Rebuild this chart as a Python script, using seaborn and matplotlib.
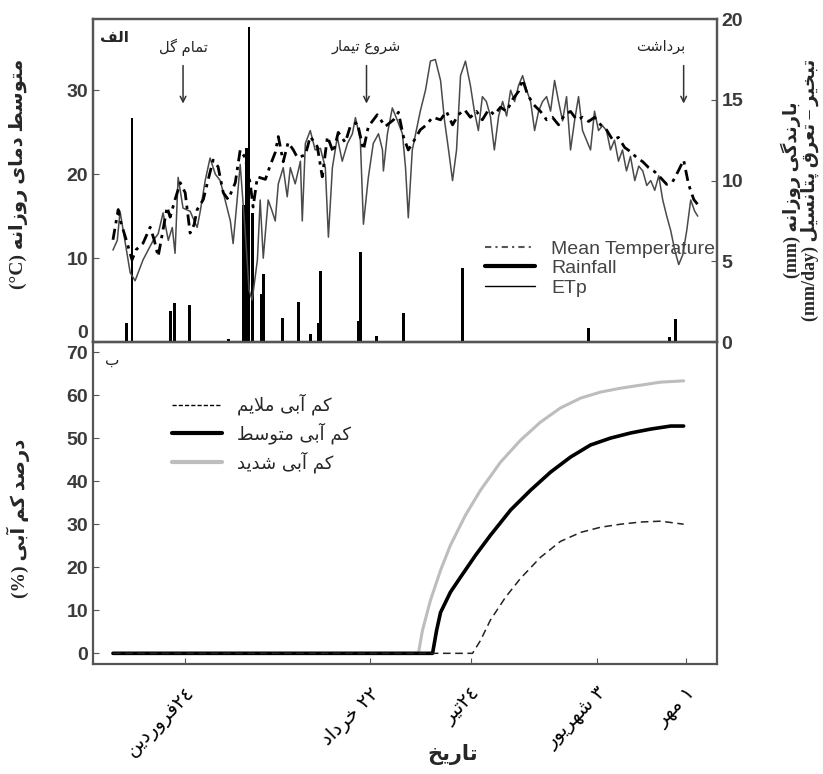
import numpy as np
import matplotlib
matplotlib.use("Agg")
import matplotlib.pyplot as plt
from matplotlib.lines import Line2D
import seaborn as sns

# ---- data (day of the Persian year, 1 = 1 Farvardin) ----
temp_day = [0.5, 2.2, 2.8, 4.8, 6.7, 8.0, 10.3, 12.6, 13.9, 15.2, 16.8, 18.1, 19.1, 20.7,
            22.4, 24.0, 25.6, 26.9, 27.9, 29.9, 31.5, 33.1, 34.7, 36.4, 38.0, 40.3, 41.9,
            43.5, 45.2, 46.1, 47.5, 50.1, 51.7, 53.3, 54.3, 55.9, 57.5, 59.2, 60.5, 63.1,
            64.7, 67.0, 68.6, 70.3, 72.2, 73.8, 76.1, 77.7, 80.0, 82.0, 83.6, 86.5, 89.1,
            91.8, 93.4, 95.0, 96.6, 98.6, 100.5, 102.5, 104.5, 107.1, 109.0, 111.0, 112.9,
            114.9, 116.8, 118.8, 120.7, 122.7, 124.6, 126.6, 128.6, 130.5, 132.5, 133.8,
            135.4, 137.4, 139.6, 141.6, 143.5, 145.5, 147.5, 149.4, 151.4, 153.3, 155.3,
            157.2, 159.2, 161.1, 163.1, 165.0, 167.0, 168.9, 170.9, 172.9, 174.8, 176.8,
            178.7, 180.7, 182.6, 184.6, 186.2, 187.8, 189.5, 190.8]
temp_val = [12.2, 15.8, 14.6, 12.2, 9.8, 11.0, 11.8, 13.7, 12.2, 10.2, 13.4, 16.1, 14.9, 17.0,
            19.0, 17.8, 13.0, 14.0, 15.8, 17.0, 19.4, 21.7, 20.9, 17.8, 17.0, 19.0, 22.9,
            22.0, 18.8, 16.1, 19.7, 19.4, 21.1, 22.6, 24.5, 21.5, 23.8, 22.9, 22.0, 22.3,
            24.5, 23.3, 19.7, 24.5, 22.6, 25.0, 23.8, 25.7, 26.2, 22.9, 25.7, 27.1, 25.7,
            26.5, 27.4, 24.5, 22.9, 24.1, 25.3, 25.9, 26.8, 26.5, 27.5, 25.9, 27.1,
            27.7, 26.8, 27.5, 26.5, 27.7, 27.1, 28.0, 27.5, 28.9, 29.9, 31.3,
            29.5, 28.3, 27.5, 26.5, 26.8, 25.9, 27.1, 27.5, 26.5, 26.8, 26.3,
            26.8, 25.9, 25.3, 24.1, 24.4, 23.2, 22.7, 22.0, 21.5, 20.8, 20.3,
            19.6, 18.8, 19.1, 20.5, 21.7, 18.8, 17.0, 16.4]

etp_day = [0.5, 1.9, 2.8, 4.1, 6.1, 7.7, 10.3, 13.6, 15.2, 16.8, 18.5, 19.8, 20.7, 21.7,
           23.3, 25.6, 27.9, 28.9, 30.5, 32.1, 33.8, 35.4, 37.0, 38.7, 39.6, 40.9, 41.9,
           43.5, 44.8, 45.8, 47.5, 48.4, 49.4, 51.0, 52.3, 53.3, 54.3, 55.9, 57.2, 58.2,
           59.8, 61.5, 62.1, 63.1, 64.7, 66.3, 68.0, 69.6, 70.6, 71.9, 73.5, 75.1, 76.8,
           78.4, 79.4, 81.0, 82.0, 83.6, 85.2, 86.9, 88.2, 88.5, 89.8, 91.4, 93.1, 94.7,
           95.7, 96.6, 97.9, 99.2, 100.5, 102.2, 103.8, 105.4, 107.1, 108.4, 109.7, 111.0,
           112.3, 113.6, 115.2, 116.8, 118.1, 119.4, 120.7, 122.0, 123.3, 124.6, 126.0,
           127.3, 128.6, 129.9, 131.2, 132.5, 133.8, 135.1, 136.4, 137.7, 139.0, 140.3,
           141.6, 142.9, 144.2, 145.5, 146.8, 148.1, 149.4, 150.7, 152.0, 153.3, 154.6,
           155.9, 157.2, 158.5, 159.8, 161.1, 162.4, 163.7, 165.0, 166.3, 167.6, 168.9,
           170.3, 171.6, 172.9, 174.2, 175.5, 176.8, 178.1, 179.4, 180.7, 182.0, 183.3,
           184.6, 185.9, 187.2, 188.5, 189.8, 190.8]
etp_val = [5.7, 6.3, 8.1, 6.6, 4.3, 3.8, 5.1, 6.3, 6.7, 8.0, 6.3, 7.1, 5.5, 10.2,
           8.3, 8.1, 7.1, 8.1, 10.0, 11.4, 10.4, 10.0, 8.8, 7.5, 6.1, 8.8, 11.0,
           6.9, 3.2, 2.6, 5.1, 8.8, 5.2, 8.8, 8.1, 7.5, 9.8, 10.8, 9.0, 10.8,
           9.8, 11.2, 7.5, 12.3, 13.1, 11.9, 12.0, 10.8, 6.5, 10.8, 12.7, 11.2, 12.3,
           12.9, 13.9, 12.5, 7.3, 10.2, 12.3, 12.9, 11.9, 10.6, 12.9, 14.5, 13.7, 12.9,
           10.8, 7.7, 11.9, 13.1, 14.3, 15.6, 17.4, 17.5, 16.2, 13.7, 11.9, 10.0,
           11.9, 16.5, 17.4, 15.9, 14.3, 13.1, 15.2, 14.9, 14.0, 11.9, 14.0,
           14.9, 14.0, 15.6, 14.9, 15.9, 16.5, 15.6, 14.9, 13.1, 14.3, 14.9,
           15.2, 14.3, 16.2, 14.9, 13.7, 15.2, 11.9, 13.7, 15.2, 13.1, 12.5,
           11.9, 14.3, 13.1, 13.4, 13.1, 11.9, 12.5, 11.2, 11.9, 10.6, 11.5,
           10.0, 10.9, 10.6, 9.7, 10.0, 9.4, 10.3, 8.8, 7.8, 6.9, 5.7,
           4.8, 5.4, 6.9, 8.8, 8.1, 7.8]

rain_day = [4.8, 6.7, 19.1, 20.4, 25.3, 38.0, 42.9, 43.9, 44.8, 45.8, 48.7, 49.4, 55.6,
            60.8, 64.7, 67.3, 68.0, 80.4, 81.0, 86.2, 95.0, 114.2, 155.3, 181.7, 183.6]
rain_mm = [1.2, 13.9, 1.9, 2.4, 2.3, 0.2, 8.5, 12.0, 19.5, 8.0, 3.0, 4.2, 1.5,
           2.5, 0.5, 1.2, 4.4, 1.3, 5.6, 0.4, 1.8, 4.6, 0.9, 0.3, 1.4]

severe_day = [0.5, 99.9, 101.2, 103.8, 107.1, 110.3, 115.2, 120.1, 126.6, 133.1, 139.6,
              146.1, 152.7, 159.2, 165.7, 172.2, 178.7, 186.2]
severe_val = [0, 0, 5.3, 12.3, 19.3, 25.1, 32.1, 37.9, 44.4, 49.5, 53.7,
              57.0, 59.3, 60.7, 61.6, 62.3, 63.0, 63.3]
moderate_day = [0.5, 104.5, 105.8, 107.1, 110.3, 113.6, 118.5, 123.3, 129.9, 136.4, 142.9,
                149.4, 155.9, 162.4, 169.0, 175.5, 182.0, 186.2]
moderate_val = [0, 0, 5.3, 9.5, 14.2, 17.7, 22.8, 27.4, 33.3, 37.9, 42.1,
                45.6, 48.4, 50.0, 51.2, 52.1, 52.8, 52.8]
mild_day = [0.5, 117.5, 120.1, 123.3, 128.2, 133.1, 139.6, 146.1, 152.7, 159.2, 165.7,
            172.2, 178.7, 186.2]
mild_val = [0, 0, 3.0, 7.7, 13.0, 17.4, 22.3, 26.0, 28.1, 29.3, 30.0,
            30.5, 30.7, 30.0]

tick_days = [24, 84, 117, 158, 187]

# ---- minimal Persian shaping (matplotlib has no bidi / joining) ----
DUAL = {'ب': 0xFE8F, 'پ': 0xFB56, 'ت': 0xFE95, 'خ': 0xFEA5, 'س': 0xFEB1, 'ش': 0xFEB5,
        'ص': 0xFEB9, 'ط': 0xFEC1, 'ع': 0xFEC9, 'ف': 0xFED1, 'ق': 0xFED5, 'ک': 0xFB8E,
        'گ': 0xFB92, 'ل': 0xFEDD, 'م': 0xFEE1, 'ن': 0xFEE5, 'ه': 0xFEE9, 'ی': 0xFBFC}
RIGHT = {'ا': 0xFE8D, 'آ': 0xFE81, 'د': 0xFEA9, 'ر': 0xFEAD, 'ز': 0xFEAF, 'و': 0xFEED}


def fa(text):
    out = []
    i, n = 0, len(text)
    while i < n:
        c = text[i]
        prev = text[i - 1] if i > 0 else ''
        nxt = text[i + 1] if i + 1 < n else ''
        pj = prev in DUAL
        if c == 'ل' and nxt in ('ا', 'آ'):
            base = 0xFEFB if nxt == 'ا' else 0xFEF5
            out.append(chr(base + (1 if pj else 0)))
            i += 2
            continue
        if c in DUAL:
            nj = nxt in DUAL or nxt in RIGHT
            form = (3 if nj else 1) if pj else (2 if nj else 0)
            out.append(chr(DUAL[c] + form))
        elif c in RIGHT:
            out.append(chr(RIGHT[c] + (1 if pj else 0)))
        else:
            out.append(c)
        i += 1
    return ''.join(reversed(out))


tick_labels = [fa("فروردین") + "٢٤", fa("خرداد") + " ٢٢", fa("تیر") + "٢٤",
               fa("شهریور") + " ٣", fa("مهر") + " ١"]

sns.set_style("ticks")
plt.rcParams['font.family'] = ['DejaVu Sans']
NUM = dict(family='Liberation Sans', weight='bold', size=14)
SERIF_FA = ['Liberation Serif', 'DejaVu Sans']

fig = plt.figure(figsize=(8.23, 7.74), dpi=100)
ax1 = fig.add_axes([0.113, 0.558, 0.758, 0.4173])
ax2 = fig.add_axes([0.113, 0.142, 0.758, 0.416])
axr = ax1.twinx()

# ---- top panel ----
axr.bar(rain_day, rain_mm, width=0.9, color='black', linewidth=0)
sns.lineplot(x=etp_day, y=etp_val, ax=axr, color='#4a4a4a', linewidth=1.1)
sns.lineplot(x=temp_day, y=temp_val, ax=ax1, color='black', linewidth=2.0,
             linestyle=(0, (4, 2, 1.2, 2)))
ax1.set_zorder(axr.get_zorder() + 1)
ax1.patch.set_visible(False)

ax1.set_xlim(-6, 197)
ax1.set_ylim(0, 38.5)
axr.set_ylim(0, 20)
ax1.set_yticks([0, 10, 20, 30])
axr.set_yticks([0, 5, 10, 15, 20])
ax1.set_xticks([])
ax1.set_xlabel('')
ax1.set_ylabel('')
axr.set_ylabel('')

for lab, xd in [("تمام گل", 23.3), ("شروع تیمار", 83), ("برداشت", 186.2)]:
    tx = 178.7 if lab == "برداشت" else xd
    ax1.text(tx, 35.2, fa(lab), ha='center', va='center', fontsize=10.5)
    ax1.annotate('', xy=(xd, 28.1), xytext=(xd, 33.3),
                 arrowprops=dict(arrowstyle='->', color='#333', lw=1.1))
ax1.text(0.012, 0.93, fa("الف"), transform=ax1.transAxes, fontsize=11,
         fontweight='bold', ha='left')

handles = [Line2D([], [], color='#555', lw=1.5, linestyle=(0, (3, 2, 1, 2))),
           Line2D([], [], color='black', lw=3),
           Line2D([], [], color='black', lw=1)]
leg = ax1.legend(handles, ['Mean Temperature', 'Rainfall', 'ETp'], loc='upper left',
                 bbox_to_anchor=(0.6, 0.37), frameon=False, handlelength=2.6,
                 labelspacing=0.1, prop=dict(family='Liberation Sans', size=14))
for t in leg.get_texts():
    t.set_color('#444444')

# ---- bottom panel ----
sns.lineplot(x=severe_day, y=severe_val, ax=ax2, color='#bdbdbd', linewidth=2.2)
sns.lineplot(x=moderate_day, y=moderate_val, ax=ax2, color='black', linewidth=2.6)
sns.lineplot(x=mild_day, y=mild_val, ax=ax2, color='#222', linewidth=1.1,
             linestyle=(0, (5, 3)))
ax2.set_xlim(-6, 197)
ax2.set_ylim(-2.5, 72.3)
ax2.set_yticks(range(0, 71, 10))
ax2.set_xticks(tick_days)
ax2.set_xticklabels(tick_labels, rotation=45, ha='right', rotation_mode='anchor',
                    fontsize=14)
ax2.text(0.02, 0.93, fa("ب"), transform=ax2.transAxes, fontsize=11)

h2 = [Line2D([], [], color='black', lw=1, linestyle=(0, (3, 1.5))),
      Line2D([], [], color='black', lw=3),
      Line2D([], [], color='#bdbdbd', lw=3)]
l2 = ax2.legend(h2, [fa("کم آبی ملایم"), fa("کم آبی متوسط"), fa("کم آبی شدید")],
                loc='upper left', bbox_to_anchor=(0.1, 0.89), frameon=False,
                handlelength=2.8, labelspacing=0.4, fontsize=13)

for ax in (ax1, ax2, axr):
    for s in ax.spines.values():
        s.set_visible(True)
        s.set_color('#555555')
        s.set_linewidth(1.6)
    ax.tick_params(direction='in', length=4, color='#555555', labelcolor='#3a3a3a')
for ax in (ax1, ax2):
    for t in ax.get_yticklabels():
        t.set_fontproperties(NUM)
for t in axr.get_yticklabels():
    t.set_fontproperties(NUM)
# the top panel's "0" sits just above the lower panel's "70"
ax1.yaxis.get_major_ticks()[0].label1.set_va('bottom')
ax2.tick_params(axis='x', pad=14, labelcolor='black')

# ---- axis titles ----
fig.text(0.022, 0.775, "(°C) " + fa("متوسط دمای روزانه"), rotation=90, ha='center',
         va='center', fontsize=14, fontweight='bold', family=SERIF_FA)
fig.text(0.022, 0.33, "(%) " + fa("درصد کم آبی"), rotation=90, ha='center',
         va='center', fontsize=14, fontweight='bold', family=SERIF_FA)
fig.text(0.972, 0.755, "(mm) " + fa("بارندگی روزانه") + "\n" +
         "(mm/day) " + fa("تبخیر – تعرق پتانسیل"), rotation=90, ha='center',
         va='center', fontsize=13, fontweight='bold', family=SERIF_FA,
         multialignment='center', linespacing=1.0)
fig.text(0.55, 0.025, fa("تاریخ"), ha='center', va='center', fontsize=15,
         fontweight='bold')

fig.savefig('out.png', dpi=100)
